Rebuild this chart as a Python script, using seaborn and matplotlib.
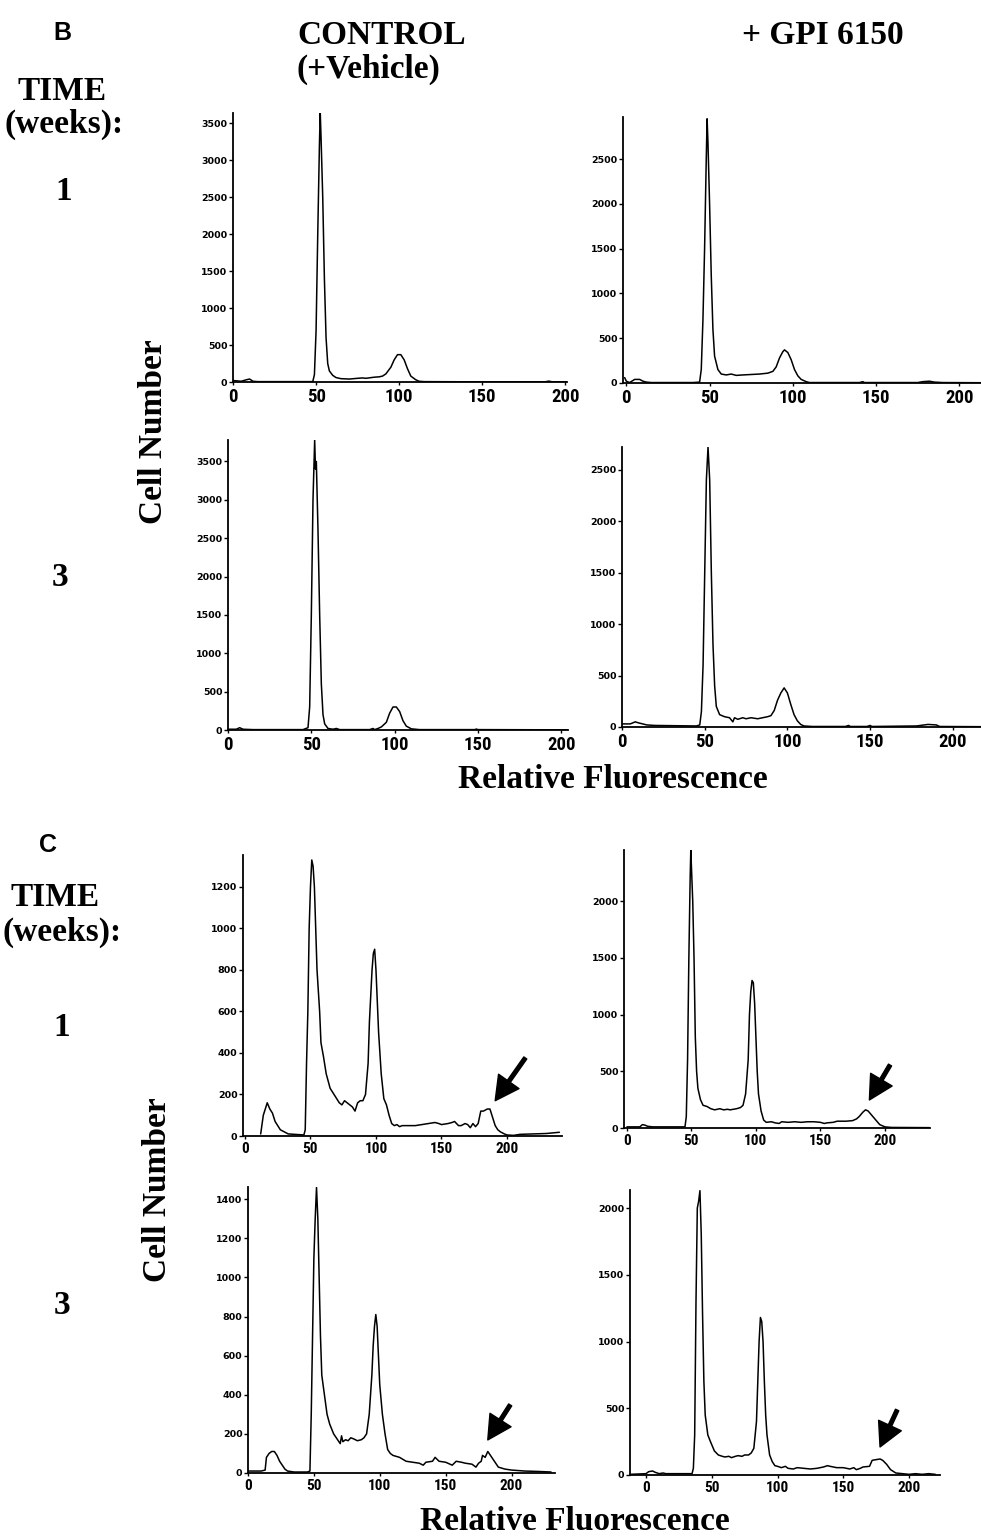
import matplotlib
matplotlib.use("Agg")
import matplotlib.pyplot as plt
import seaborn as sns

# ---- data ----
# Panel B, control, week 1
b_ctrl_w1_x = [0, 5, 8, 10, 12, 15, 30, 48, 49, 50, 51, 52, 52.5, 53, 54, 55, 56, 57, 58, 60, 62, 65, 70, 75, 78,
               80, 85, 88, 90, 92, 95, 97, 99, 101, 103, 105, 107, 110, 112, 115, 150, 188, 190, 192, 201]
b_ctrl_w1_y = [20, 10, 30, 40, 10, 5, 5, 5, 100, 700, 2000, 3200, 3650, 3300, 2500, 1400, 600, 250, 150, 90, 60,
               45, 40, 50, 55, 50, 65, 70, 80, 110, 200, 300, 370, 370, 300, 180, 80, 30, 10, 5, 2, 3, 12, 3, 2]

# Panel B, GPI 6150, week 1
b_gpi_w1_x = [-1, 0, 2, 5, 8, 10, 12, 15, 40, 44, 45, 46, 47, 48, 48.5, 49, 50, 51, 52, 53, 55, 57, 60, 63, 66,
              70, 75, 80, 85, 88, 90, 92, 94, 95, 97, 99, 101, 103, 105, 108, 110, 140, 142, 143, 175, 178, 182,
              185, 190, 213]
b_gpi_w1_y = [60, 20, 5, 40, 40, 20, 10, 5, 5, 10, 150, 700, 1500, 2500, 2950, 2700, 2000, 1200, 600, 300, 150,
              100, 90, 100, 85, 90, 95, 100, 110, 130, 180, 280, 350, 370, 340, 260, 150, 80, 40, 15, 5, 5, 15, 5,
              5, 15, 20, 10, 5, 3]

# Panel B, control, week 3
b_ctrl_w3_x = [0, 5, 7, 9, 15, 45, 48, 49, 50, 51, 52, 52.5, 53, 54, 55, 56, 57, 58, 60, 63, 65, 67, 85, 87,
               88, 90, 92, 95, 97, 99, 101, 103, 105, 107, 110, 115, 148, 149, 150, 204]
b_ctrl_w3_y = [10, 10, 30, 10, 5, 5, 30, 300, 1500, 3000, 3780, 3400, 3500, 2600, 1500, 600, 200, 80, 20, 10, 20,
               5, 5, 20, 5, 20, 40, 100, 220, 300, 300, 240, 120, 50, 15, 5, 5, 12, 5, 2]

# Panel B, GPI 6150, week 3
b_gpi_w3_x = [0, 5, 8, 10, 15, 20, 45, 47, 48, 49, 50, 51, 52, 53, 54, 55, 56, 57, 59, 62, 65, 67, 68, 70, 73,
              75, 78, 82, 85, 88, 90, 92, 94, 96, 98, 100, 102, 104, 106, 108, 110, 115, 135, 137, 138, 148, 150,
              151, 178, 185, 190, 192, 217]
b_gpi_w3_y = [30, 30, 50, 40, 20, 15, 10, 20, 150, 600, 1500, 2400, 2720, 2400, 1500, 800, 400, 200, 120, 100,
              90, 50, 90, 75, 90, 80, 90, 80, 90, 100, 110, 160, 260, 330, 380, 330, 220, 120, 60, 25, 10, 5, 5,
              15, 5, 5, 15, 5, 10, 25, 20, 5, 3]

# Panel C, control, week 1
c_ctrl_w1_x = [12, 14, 16, 17, 19, 21, 23, 25, 27, 30, 33, 45, 46, 47, 48, 49, 50, 51, 52, 53, 54, 55, 57, 58,
               60, 62, 65, 68, 70, 72, 74, 76, 78, 80, 82, 84, 86, 88, 90, 92, 94, 95, 97, 98, 99, 100, 101, 102,
               103, 104, 106, 108, 110, 112, 114, 116, 118, 120, 125, 130, 135, 140, 145, 148, 150, 155, 158,
               160, 163, 165, 168, 170, 172, 174, 176, 178, 180, 182, 185, 187, 189, 191, 193, 195, 198, 200,
               205, 210, 220, 230, 235, 240]
c_ctrl_w1_y = [10, 100, 140, 160, 130, 110, 70, 50, 30, 20, 10, 5, 30, 350, 600, 1000, 1200, 1330, 1300, 1200,
               1000, 800, 600, 450, 380, 300, 230, 200, 180, 160, 150, 170, 160, 150, 140, 120, 160, 170, 170,
               200, 350, 550, 800, 880, 900, 800, 650, 500, 400, 300, 180, 150, 100, 60, 50, 55, 45, 50, 50, 50,
               55, 60, 65, 60, 55, 60, 65, 70, 50, 50, 60, 55, 40, 60, 45, 60, 120, 120, 130, 130, 90, 50, 30,
               20, 10, 5, 3, 8, 10, 12, 15, 18]
c_ctrl_w1_arrow = [(214, 376), (191, 170)]

# Panel C, GPI 6150, week 1
c_gpi_w1_x = [0, 10, 12, 14, 16, 20, 45, 46, 47, 48, 49, 49.5, 50, 51, 52, 53, 54, 55, 57, 59, 62, 65, 68, 72,
              75, 78, 80, 85, 88, 90, 92, 94, 95, 96, 97, 98, 99, 100, 101, 102, 104, 106, 108, 112, 115, 118,
              120, 125, 130, 135, 140, 145, 150, 153, 155, 160, 163, 165, 170, 175, 178, 180, 183, 185, 187,
              190, 193, 196, 200, 205, 235]
c_gpi_w1_y = [10, 10, 30, 25, 15, 10, 10, 100, 600, 1500, 2200, 2450, 2300, 2000, 1500, 800, 500, 350, 250, 200,
              190, 170, 160, 170, 160, 165, 160, 170, 180, 200, 300, 600, 1000, 1200, 1300, 1280, 1100, 800, 500,
              300, 150, 70, 50, 55, 45, 40, 55, 50, 55, 50, 55, 55, 50, 40, 45, 50, 60, 60, 60, 65, 80, 100, 140,
              160, 150, 110, 70, 30, 10, 5, 3]
c_gpi_w1_arrow = [(204, 555), (188, 247)]

# Panel C, control, week 3
c_ctrl_w3_x = [0, 5, 10, 13, 14, 16, 18, 20, 22, 24, 26, 28, 30, 35, 45, 47, 48, 49, 50, 51, 52, 53, 54, 55, 56,
               58, 60, 62, 65, 68, 70, 71, 72, 74, 76, 78, 80, 83, 86, 88, 90, 92, 94, 95, 96, 97, 98, 99, 100,
               102, 104, 106, 108, 110, 115, 120, 125, 130, 133, 135, 140, 142, 145, 150, 155, 158, 162, 165,
               170, 173, 175, 177, 178, 180, 182, 184, 186, 188, 190, 195, 200, 210, 220, 230]
c_ctrl_w3_y = [10, 10, 10, 15, 80, 100, 110, 110, 90, 60, 40, 20, 10, 5, 5, 10, 300, 700, 1100, 1300, 1460, 1300,
               1000, 700, 500, 400, 300, 250, 200, 170, 150, 190, 160, 170, 165, 180, 175, 165, 170, 180, 200,
               300, 500, 650, 750, 810, 750, 600, 450, 300, 200, 120, 100, 90, 80, 60, 55, 50, 40, 55, 60, 80,
               60, 55, 40, 60, 55, 50, 45, 30, 50, 60, 90, 80, 110, 90, 70, 50, 30, 20, 15, 10, 8, 5]
c_ctrl_w3_arrow = [(199, 348), (182, 169)]

# Panel C, GPI 6150, week 3
c_gpi_w3_x = [-12, 0, 2, 5, 7, 10, 13, 15, 35, 36, 37, 38, 39, 40, 41, 42, 43, 44, 45, 47, 49, 52, 55, 58, 60,
              63, 65, 68, 70, 73, 75, 78, 80, 82, 84, 85, 86, 87, 88, 89, 90, 91, 92, 94, 96, 98, 100, 103, 106,
              108, 112, 115, 120, 125, 130, 135, 138, 140, 145, 150, 155, 158, 160, 163, 165, 170, 172, 175, 178,
              180, 183, 186, 190, 195, 200, 205, 210, 215, 220]
c_gpi_w3_y = [5, 10, 25, 30, 20, 10, 15, 10, 10, 50, 300, 1300, 2000, 2050, 2130, 1800, 1200, 700, 450, 300, 250,
              180, 150, 140, 135, 140, 130, 140, 145, 140, 150, 150, 165, 200, 400, 700, 1000, 1180, 1150, 1000,
              700, 450, 300, 150, 100, 70, 65, 55, 65, 50, 45, 55, 50, 45, 50, 60, 70, 65, 55, 55, 45, 55, 40, 50,
              60, 65, 110, 115, 120, 110, 80, 40, 15, 10, 5, 10, 5, 10, 5]
c_gpi_w3_arrow = [(191, 487), (178, 210)]

x_ticks = [0, 50, 100, 150, 200]
yticks_b_ctrl = [0, 500, 1000, 1500, 2000, 2500, 3000, 3500]
yticks_b_gpi = [0, 500, 1000, 1500, 2000, 2500]
yticks_c_ctrl_w1 = [0, 200, 400, 600, 800, 1000, 1200]
yticks_c_ctrl_w3 = [0, 200, 400, 600, 800, 1000, 1200, 1400]
yticks_c_gpi = [0, 500, 1000, 1500, 2000]

sns.set_style("ticks")
plt.rcParams['font.family'] = ['DejaVu Sans']
plt.rcParams.update({"text.color": "black", "xtick.color": "black", "ytick.color": "black",
                     "axes.edgecolor": "black"})

W, H = 981, 1540
fig = plt.figure(figsize=(W / 100, H / 100), dpi=100)

SERIF = ['Liberation Serif', 'DejaVu Serif']
NARROW = ['Liberation Sans Narrow', 'Roboto Condensed', 'DejaVu Sans Condensed', 'Arial Narrow', 'DejaVu Sans']


def px_axes(left, top, right, bottom):
    return fig.add_axes([left / W, 1 - bottom / H, (right - left) / W, (bottom - top) / H])


def hist_panel(box, xs, ys, xlim, ylim, yticks, xfs, arrow=None):
    ax = px_axes(*box)
    sns.lineplot(x=xs, y=ys, ax=ax, color="black", linewidth=1.1, estimator=None, sort=False)
    ax.set_xlim(*xlim)
    ax.set_ylim(*ylim)
    ax.set_xticks(x_ticks)
    ax.set_yticks(yticks)
    ax.set_xticklabels([str(t) for t in x_ticks], family=NARROW, weight="bold", fontsize=xfs)
    ax.set_yticklabels([f"{t}" for t in yticks], family=['DejaVu Sans'], weight="bold", fontsize=6.8)
    ax.tick_params(axis="y", length=3, width=1, pad=1)
    ax.tick_params(axis="x", length=2, width=1, pad=2)
    sns.despine(ax=ax)
    for s in ("left", "bottom"):
        ax.spines[s].set_linewidth(1.3)
    ax.patch.set_alpha(0)
    if arrow is not None:
        tail, tip = arrow
        ax.annotate("", xy=tip, xytext=tail,
                    arrowprops=dict(facecolor="black", edgecolor="black", width=2.6,
                                    headwidth=18, headlength=17, shrink=0))
    return ax


# panel B
hist_panel((233, 113, 567, 382), b_ctrl_w1_x, b_ctrl_w1_y, (0, 201), (0, 3640), yticks_b_ctrl, 13.5)
hist_panel((623, 117, 981, 383), b_gpi_w1_x, b_gpi_w1_y, (-2, 213), (0, 2970), yticks_b_gpi, 13.5)
hist_panel((228, 440, 568, 730), b_ctrl_w3_x, b_ctrl_w3_y, (0, 204), (0, 3780), yticks_b_ctrl, 13.5)
hist_panel((622, 447, 981, 727), b_gpi_w3_x, b_gpi_w3_y, (0, 217), (0, 2720), yticks_b_gpi, 13.5)

# panel C
hist_panel((243, 855, 562, 1136), c_ctrl_w1_x, c_ctrl_w1_y, (-1.5, 242), (0, 1354), yticks_c_ctrl_w1, 11,
           c_ctrl_w1_arrow)
hist_panel((624, 850, 930, 1128), c_gpi_w1_x, c_gpi_w1_y, (-2.3, 235), (0, 2450), yticks_c_gpi, 11,
           c_gpi_w1_arrow)
hist_panel((248, 1187, 555, 1473), c_ctrl_w3_x, c_ctrl_w3_y, (0, 233), (0, 1462), yticks_c_ctrl_w3, 11,
           c_ctrl_w3_arrow)
hist_panel((630, 1190, 940, 1475), c_gpi_w3_x, c_gpi_w3_y, (-12.2, 223.6), (0, 2135), yticks_c_gpi, 11,
           c_gpi_w3_arrow)


def label(x, y, s, size=24, ha="center", rot=0, family=SERIF):
    fig.text(x / W, 1 - y / H, s, ha=ha, va="center", fontsize=size, weight="bold",
             family=family, rotation=rot)


label(62, 33, "B", size=18, family=['Liberation Sans', 'DejaVu Sans'])
label(297, 35, "CONTROL", ha="left")
label(297, 69, "(+Vehicle)", ha="left")
label(823, 35, "+ GPI 6150")
label(62, 91, "TIME")
label(64, 124, "(weeks):")
label(64, 192, "1")
label(60, 578, "3")
label(153, 432, "Cell Number", rot=90)
label(613, 780, "Relative Fluorescence")

label(48, 845, "C", size=18, family=['Liberation Sans', 'DejaVu Sans'])
label(55, 898, "TIME")
label(62, 932, "(weeks):")
label(62, 1027, "1")
label(62, 1305, "3")
label(158, 1190, "Cell Number", rot=90)
label(575, 1522, "Relative Fluorescence")

fig.savefig("out.png", dpi=100)
